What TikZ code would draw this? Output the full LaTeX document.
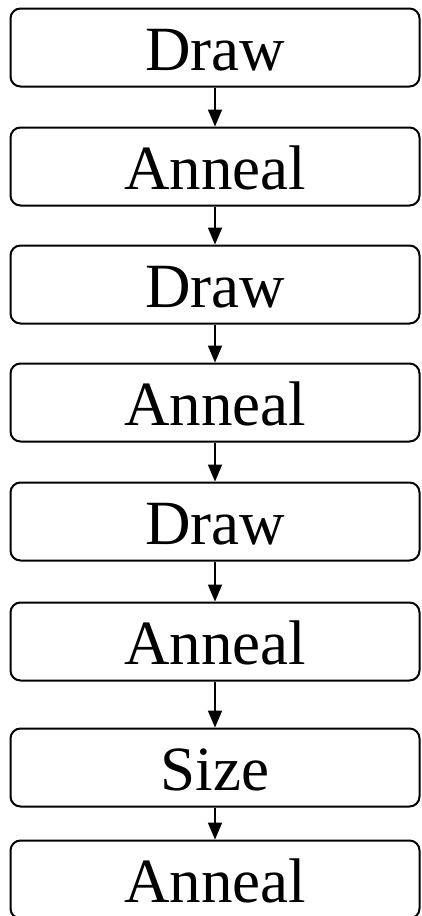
\documentclass[tikz,border=0pt]{standalone}
\usepackage{fontspec}
\setmainfont{Liberation Serif}
\usepackage{tikz}
\usetikzlibrary{arrows.meta, positioning}
\tikzstyle{stagebox} = [rectangle, rounded corners=10pt, minimum width=409pt, minimum height=78pt,
                        text centered, draw=black, line width=2pt, fill=white,
                        font=\fontsize{63}{70}\selectfont, inner sep=0pt,
                        text height=45pt, text depth=0pt]
\tikzstyle{arrow} = [line width=1.8pt, -{Triangle[length=17pt, width=14pt]}, black]

\begin{document}
\begin{tikzpicture}[node distance=39pt, x=1pt, y=1pt]
    \useasboundingbox (0,0) rectangle (421,-916);
    % Stages, top to bottom
    \node[stagebox] (draw1) at (215,-47.5) {Draw};
    \node[stagebox, below=of draw1] (anneal1) {Anneal};
    \node[stagebox, below=38pt of anneal1] (draw2) {Draw};
    \node[stagebox, below=38pt of draw2] (anneal2) {Anneal};
    \node[stagebox, below=of anneal2] (draw3) {Draw};
    \node[stagebox, below=40pt of draw3] (anneal3) {Anneal};
    \node[stagebox, below=46pt of anneal3] (size) {Size};
    \node[stagebox, below=32pt of size] (anneal4) {Anneal};

    % Arrows
    \draw[arrow] (draw1) -- (anneal1);
    \draw[arrow] (anneal1) -- (draw2);
    \draw[arrow] (draw2) -- (anneal2);
    \draw[arrow] (anneal2) -- (draw3);
    \draw[arrow] (draw3) -- (anneal3);
    \draw[arrow] (anneal3) -- (size);
    \draw[arrow] (size) -- (anneal4);
\end{tikzpicture}
\end{document}
